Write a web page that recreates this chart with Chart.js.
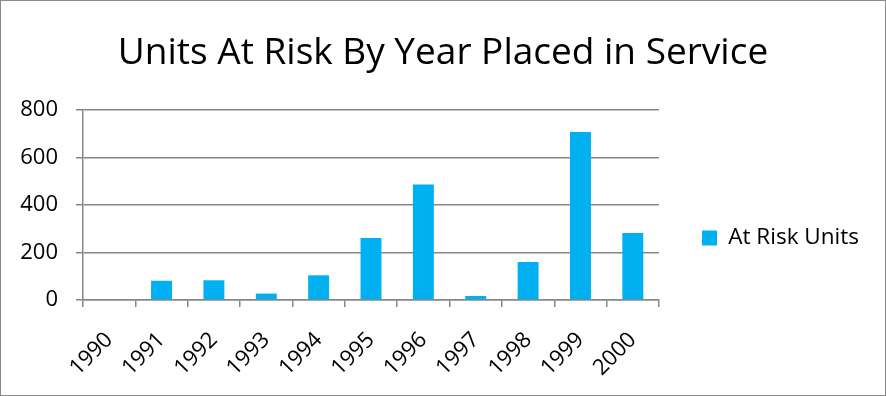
<!DOCTYPE html>
<html>
<head>
<meta charset="utf-8">
<script src="https://cdn.jsdelivr.net/npm/chart.js@4.4.1/dist/chart.umd.min.js"></script>
<style>
  html, body { margin: 0; padding: 0; background: #ffffff; }
  #wrap { width: 886px; height: 396px; position: relative; }
</style>
</head>
<body>
<div id="wrap"><canvas id="c" width="886" height="396"></canvas></div>
<script>
const categories = ["1990","1991","1992","1993","1994","1995","1996","1997","1998","1999","2000"];
const atRiskUnits = [0, 81, 83, 27, 104, 261, 486, 17, 160, 707, 282];
const yTicks = [0, 200, 400, 600, 800];
const seriesName = "At Risk Units";
const chartTitle = "Units At Risk By Year Placed in Service";

const FONT = "'Open Sans', 'Noto Sans', sans-serif";
const GRID = '#878787';

const frame = {
  id: 'frame',
  beforeLayout(chart) {
    const lg = chart.legend;
    if (lg && !lg._fitPatched) {
      const orig = lg.fit.bind(lg);
      lg.fit = function () { orig(); this.width = 227; };
      lg._fitPatched = true;
    }
  },
  afterLayout(chart) {
    const lg = chart.legend;
    if (lg) { lg.top += 33; lg.bottom += 33; }
  },
  afterDraw(chart) {
    const ctx = chart.ctx;
    ctx.save();
    ctx.strokeStyle = '#8a8a8a';
    ctx.lineWidth = 1;
    ctx.strokeRect(0.5, 0.5, chart.width - 1, chart.height - 1);
    ctx.restore();
  }
};

new Chart(document.getElementById('c'), {
  type: 'bar',
  data: {
    labels: categories,
    datasets: [{
      label: seriesName,
      data: atRiskUnits,
      backgroundColor: '#00B0F0',
      borderWidth: 0,
      barPercentage: 0.4,
      categoryPercentage: 1.0
    }]
  },
  options: {
    responsive: false,
    animation: false,
    devicePixelRatio: 1,
    layout: { padding: { left: 0, right: 0, top: 0, bottom: 0 } },
    plugins: {
      title: {
        display: true,
        text: chartTitle,
        color: '#000000',
        font: { family: FONT, size: 37, weight: 'normal', lineHeight: 1.2 },
        padding: { top: 31, bottom: 34.6 }
      },
      legend: {
        display: true,
        position: 'right',
        fullSize: false,
        labels: {
          color: '#000000',
          font: { family: FONT, size: 22.5 },
          boxWidth: 15,
          boxHeight: 15,
          padding: 43
        }
      },
      tooltip: { enabled: false }
    },
    scales: {
      x: {
        offset: true,
        grid: {
          display: true,
          offset: true,
          drawOnChartArea: false,
          drawTicks: true,
          tickLength: 7,
          color: GRID,
          lineWidth: 1.5
        },
        border: { display: true, color: GRID, width: 1.5 },
        ticks: {
          color: '#000000',
          font: { family: FONT, size: 22 },
          maxRotation: 45,
          minRotation: 45,
          autoSkip: false,
          padding: 20
        },
        afterFit(scale) { scale.height = 96; }
      },
      y: {
        min: 0,
        max: 800,
        afterBuildTicks(scale) { scale.ticks = yTicks.map(v => ({ value: v })); },
        grid: {
          color: GRID,
          lineWidth: 1.5,
          drawTicks: true,
          tickLength: 7
        },
        border: { display: true, color: GRID, width: 1.5 },
        ticks: {
          color: '#000000',
          font: { family: FONT, size: 22 },
          padding: 18
        },
        afterFit(scale) { scale.width = 83; }
      }
    }
  },
  plugins: [frame]
});
</script>
</body>
</html>
